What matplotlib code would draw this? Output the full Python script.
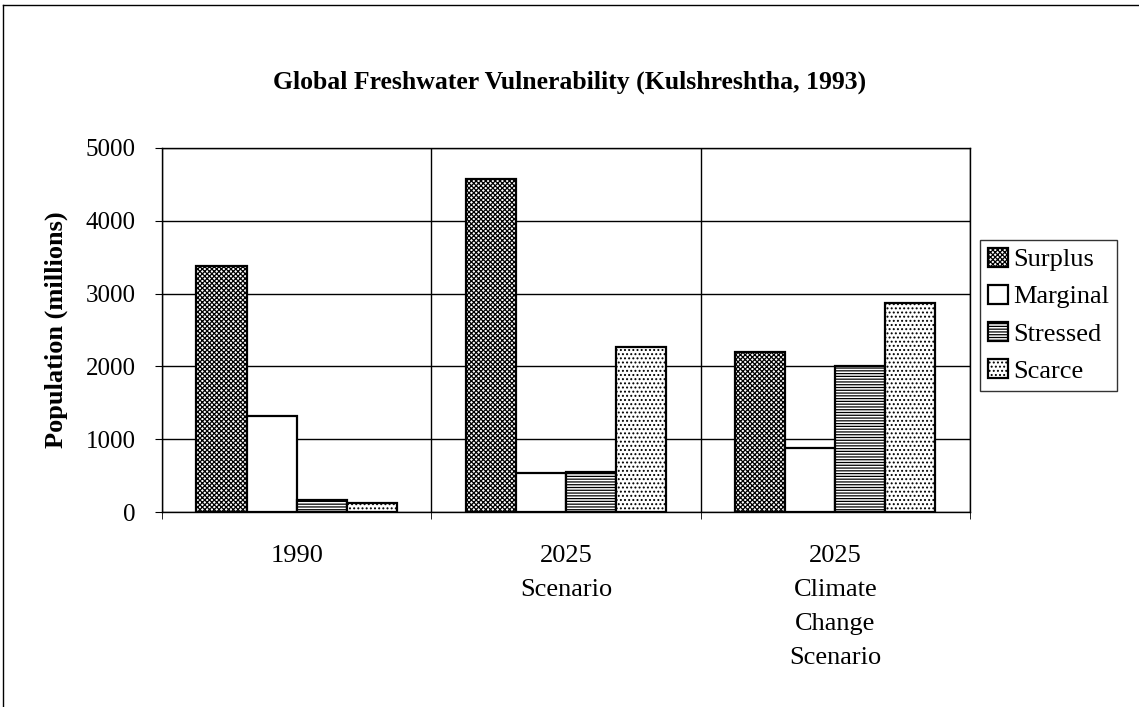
import numpy as np
import matplotlib.pyplot as plt
from matplotlib.lines import Line2D

categories = ['1990', '2025\nScenario', '2025\nClimate\nChange\nScenario']
series = ['Surplus', 'Marginal', 'Stressed', 'Scarce']
surplus = [3380, 4580, 2200]
marginal = [1320, 535, 880]
stressed = [165, 550, 2000]
scarce = [125, 2260, 2870]

hatches = ['xxxxxxx', '', '------', '....']

plt.rcParams['font.family'] = ['Liberation Serif', 'DejaVu Serif']
plt.rcParams['hatch.linewidth'] = 0.9

fig = plt.figure(figsize=(11.39, 7.07), dpi=100)
ax = fig.add_axes([0.1422, 0.2758, 0.7094, 0.5149])

x = np.arange(len(categories))
w = 0.186
values = [surplus, marginal, stressed, scarce]
for i, (name, vals) in enumerate(zip(series, values)):
    ax.bar(x + (i - 1.5) * w, vals, w, label=name, facecolor='white',
           edgecolor='black', linewidth=1.6, hatch=hatches[i], zorder=3)

ax.set_xlim(-0.5, 2.5)
ax.set_ylim(0, 5000)
ax.set_yticks(range(0, 5001, 1000))
ax.set_xticks(x)
ax.set_xticklabels(categories, fontsize=19, linespacing=1.7)
ax.set_xticks([-0.5, 0.5, 1.5, 2.5], minor=True)
ax.tick_params(axis='x', which='major', length=0, pad=24)
ax.tick_params(axis='x', which='minor', length=5, direction='out')
ax.tick_params(axis='y', labelsize=18, length=5, direction='out', pad=14)
ax.grid(axis='y', color='black', linewidth=1, zorder=0)
ax.grid(axis='x', which='minor', color='black', linewidth=1, zorder=0)
for s in ax.spines.values():
    s.set_linewidth(1)

ax.set_ylabel('Population (millions)', fontsize=19, fontweight='bold', labelpad=13)
fig.text(0.5, 0.883, 'Global Freshwater Vulnerability (Kulshreshtha, 1993)',
         fontsize=18.5, fontweight='bold', ha='center', va='center')

leg = ax.legend(loc='center left', bbox_to_anchor=(1.0124, 0.541), fontsize=19,
                frameon=True, fancybox=False, edgecolor='black',
                handlelength=0.75, handleheight=0.75, handletextpad=0.2,
                labelspacing=0.5, borderpad=0.3, borderaxespad=0)
leg.get_frame().set_linewidth(1)

fig.add_artist(Line2D([0.003, 1], [0.993, 0.993], color='black', linewidth=1))
fig.add_artist(Line2D([0.003, 0.003], [0, 0.993], color='black', linewidth=1))

fig.savefig('out.png', dpi=100)
